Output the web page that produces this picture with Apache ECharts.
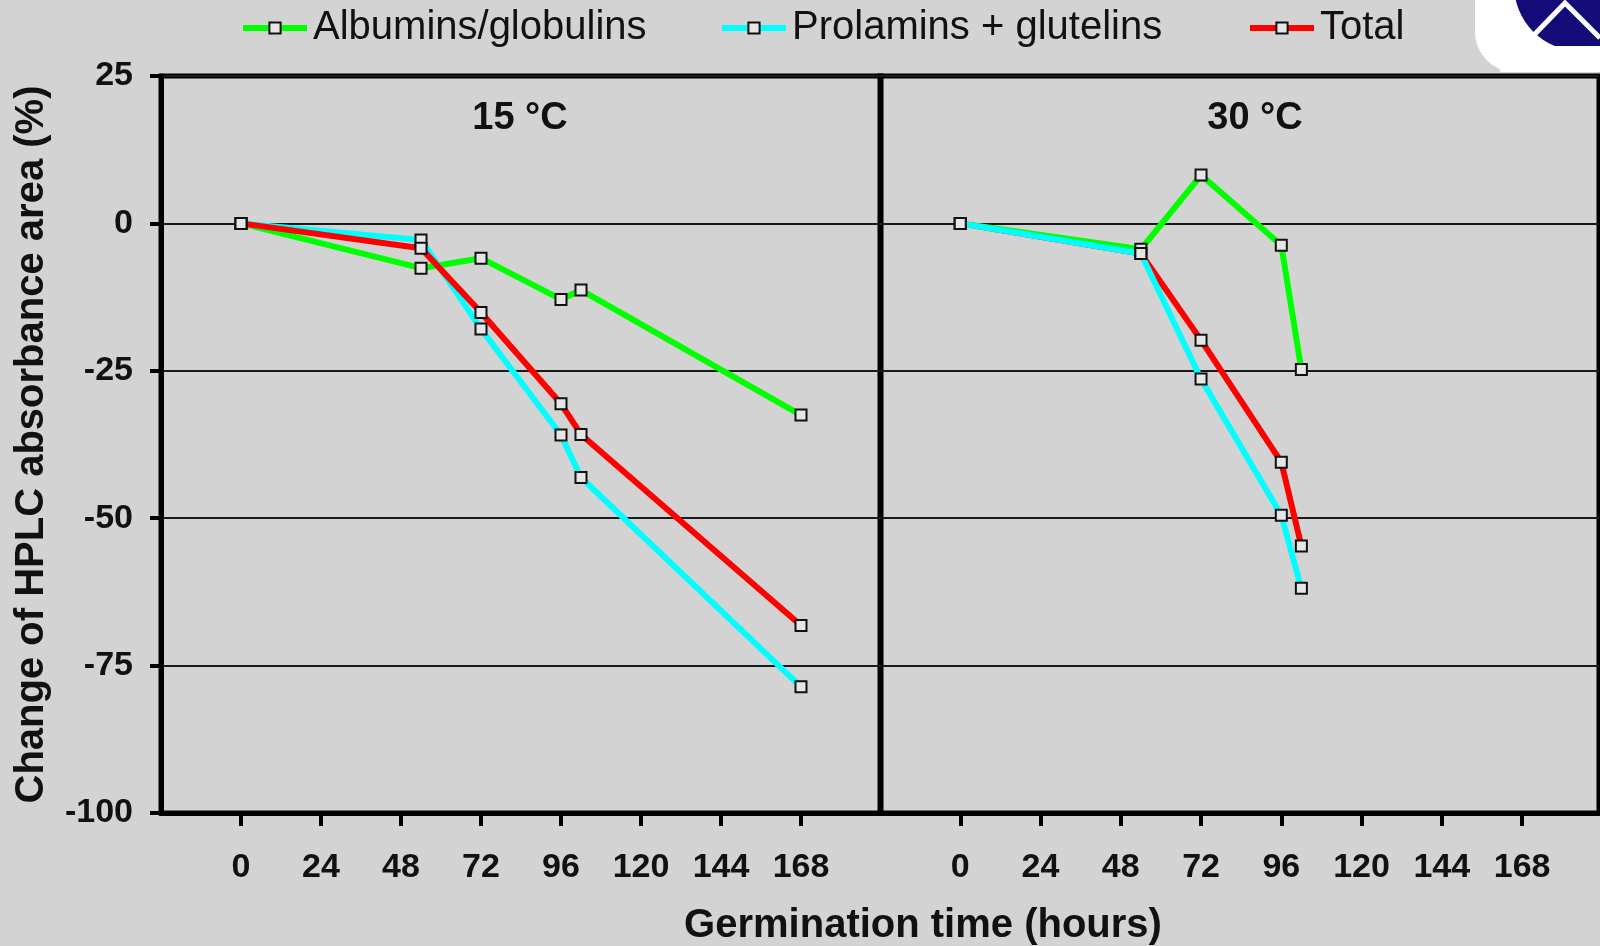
<!DOCTYPE html>
<html>
<head>
<meta charset="utf-8">
<title>HPLC absorbance area during germination</title>
<script src="https://cdn.jsdelivr.net/npm/echarts@6/dist/echarts.min.js"></script>
<style>
  html, body { margin: 0; padding: 0; background: #d3d3d3; }
  #chart { width: 1600px; height: 946px; }
</style>
</head>
<body>
<div id="chart"></div>
<script>
// Germination times (hours) at which samples were taken
const hours15 = [0, 54, 72, 96, 102, 168];
const hours30 = [0, 54, 72, 96, 102];

// Change of HPLC absorbance area (%) at 15 °C
const albumins15  = [0, -7.6, -5.9, -12.9, -11.3, -32.5];
const prolamins15 = [0, -2.8, -17.9, -35.9, -43.1, -78.6];
const total15     = [0, -4.2, -15.1, -30.6, -35.8, -68.2];

// Change of HPLC absorbance area (%) at 30 °C
const albumins30  = [0, -4.4, 8.2, -3.7, -24.8];
const prolamins30 = [0, -5.1, -26.4, -49.5, -61.9];
const total30     = [0, -5.1, -19.8, -40.5, -54.7];

// Axis tick labels
const hourTicks = [0, 24, 48, 72, 96, 120, 144, 168];
const seriesNames = ['Albumins/globulins', 'Prolamins + glutelins', 'Total'];
const panelTitles = ['15 °C', '30 °C'];

const FONT = '"Liberation Sans", Arial, Helvetica, sans-serif';
const colors = ['#00ff00', '#00ffff', '#ff0000'];

const pairs = (xs, ys) => xs.map((x, i) => [x, ys[i]]);

function lineSeries(nameIdx, gridIdx, xs, ys) {
  return {
    type: 'line',
    name: seriesNames[nameIdx],
    xAxisIndex: gridIdx,
    yAxisIndex: gridIdx,
    data: pairs(xs, ys),
    symbol: 'rect',
    symbolSize: 11,
    lineStyle: { color: colors[nameIdx], width: 6 },
    itemStyle: { color: '#e6e6e6', borderColor: '#111', borderWidth: 2 },
    emphasis: { disabled: true }
  };
}

function xAxis(gridIdx, max) {
  return {
    type: 'value',
    gridIndex: gridIdx,
    min: -24,
    max: max,
    interval: 24,
    axisLine: { show: true, onZero: false, lineStyle: { color: '#000', width: 5 } },
    axisTick: {
      show: true, inside: false, length: 13, customValues: hourTicks,
      lineStyle: { color: '#000', width: 4 }
    },
    axisLabel: {
      show: true, customValues: hourTicks, margin: 38,
      fontFamily: FONT, fontSize: 34, fontWeight: 'bold', color: '#111'
    },
    splitLine: { show: false }
  };
}

function yAxis(gridIdx, withLabels) {
  return {
    type: 'value',
    gridIndex: gridIdx,
    min: -100,
    max: 25,
    interval: 25,
    name: withLabels ? 'Change of HPLC absorbance area (%)' : '',
    nameLocation: 'middle',
    nameGap: 109,
    nameTextStyle: { fontFamily: FONT, fontSize: 40, fontWeight: 'bold', color: '#111' },
    axisLine: { show: withLabels, onZero: false, lineStyle: { color: '#000', width: 5 } },
    axisTick: { show: withLabels, length: 11, lineStyle: { color: '#000', width: 4 } },
    axisLabel: {
      show: withLabels, margin: 28,
      fontFamily: FONT, fontSize: 34, fontWeight: 'bold', color: '#111'
    },
    splitLine: { show: true, lineStyle: { color: '#1a1a1a', width: 2 } }
  };
}

function legend(nameIdx, left) {
  return {
    data: [seriesNames[nameIdx]],
    left: left,
    top: 8,
    padding: 0,
    itemWidth: 64,
    itemHeight: 14,
    itemGap: 0,
    selectedMode: false,
    lineStyle: { width: 6 },
    itemStyle: { borderWidth: 2, borderColor: '#111' },
    textStyle: { fontFamily: FONT, fontSize: 40, color: '#111', padding: [0, 0, 0, 1] }
  };
}

const chart = echarts.init(document.getElementById('chart'), null, { renderer: 'canvas' });

chart.setOption({
  backgroundColor: '#d3d3d3',
  animation: false,
  title: [
    { text: panelTitles[0], left: 520, top: 100, padding: 0, textAlign: 'center',
      textStyle: { fontFamily: FONT, fontSize: 38, fontWeight: 'bold', color: '#111' } },
    { text: panelTitles[1], left: 1255, top: 100, padding: 0, textAlign: 'center',
      textStyle: { fontFamily: FONT, fontSize: 38, fontWeight: 'bold', color: '#111' } },
    { text: 'Germination time (hours)', left: 923, top: 906, padding: 0, textAlign: 'center',
      textStyle: { fontFamily: FONT, fontSize: 40, fontWeight: 'bold', color: '#111' } }
  ],
  legend: [legend(0, 240), legend(1, 719), legend(2, 1247)],
  grid: [
    { left: 161, top: 76, width: 720, height: 737, show: true,
      borderColor: '#000', borderWidth: 5, backgroundColor: 'transparent' },
    { left: 880, top: 76, width: 719, height: 737, show: true,
      borderColor: '#000', borderWidth: 5, backgroundColor: 'transparent' }
  ],
  xAxis: [xAxis(0, 192), xAxis(1, 191)],
  yAxis: [yAxis(0, true), yAxis(1, false)],
  // at 30 °C the total runs beneath the other two fractions
  series: [
    lineSeries(0, 0, hours15, albumins15),
    lineSeries(1, 0, hours15, prolamins15),
    lineSeries(2, 0, hours15, total15),
    lineSeries(2, 1, hours30, total30),
    lineSeries(0, 1, hours30, albumins30),
    lineSeries(1, 1, hours30, prolamins30)
  ],
  graphic: [
    // publisher badge in the top-right corner
    { type: 'rect', shape: { x: 1475, y: -60, width: 200, height: 132, r: 40 },
      style: { fill: '#ffffff' }, z: 10 },
    { type: 'circle', shape: { cx: 1580, cy: -15, r: 66 },
      style: { fill: '#140a78' }, z: 11 },
    { type: 'rect', shape: { x: 1500, y: 46, width: 100, height: 26 },
      style: { fill: '#ffffff' }, z: 12 },
    { type: 'polyline', shape: { points: [[1533, 36], [1565, 3], [1600, 38]] },
      style: { stroke: '#ffffff', lineWidth: 5, fill: null }, z: 13 }
  ]
});
</script>
</body>
</html>
